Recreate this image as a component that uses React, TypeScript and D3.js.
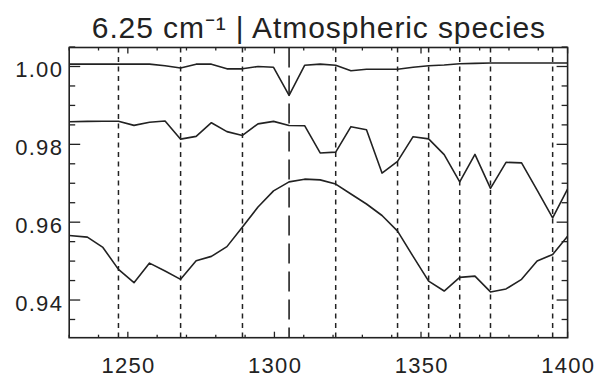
import React from "react";
import * as d3 from "d3";

// Wavenumber grid (cm^-1)
const wavenumbers = [
  1230.0, 1236.2, 1241.5, 1246.8, 1252.1, 1257.4, 1262.7, 1268.0, 1273.3, 1278.5,
  1283.8, 1289.1, 1294.4, 1299.7, 1305.0, 1310.3, 1315.6, 1320.9, 1326.1, 1331.4,
  1336.7, 1342.0, 1347.3, 1352.6, 1357.9, 1363.2, 1368.4, 1373.7, 1379.0, 1384.3,
  1389.6, 1394.9, 1400.2,
];

const seriesTop = [
  1.0006, 1.0006, 1.0006, 1.0006, 1.0006, 1.0006, 1.0002, 0.9996, 1.0006, 1.0006,
  0.9994, 0.9994, 1.0, 0.9998, 0.9926, 1.0003, 1.0006, 1.0003, 0.9989, 0.9993,
  0.9993, 0.9993, 0.9998, 1.0002, 1.0004, 1.0007, 1.0008, 1.0009, 1.0009, 1.0009,
  1.0009, 1.0009, 1.0009,
];

const seriesMid = [
  0.98582, 0.9859, 0.98595, 0.98595, 0.98487, 0.98569, 0.986, 0.98133, 0.98205, 0.98556,
  0.98326, 0.98228, 0.98526, 0.9859, 0.98485, 0.98479, 0.97779, 0.978, 0.98454, 0.98377,
  0.97262, 0.97564, 0.98197, 0.98141, 0.97736, 0.97036, 0.97741, 0.96869, 0.97538, 0.97523,
  0.96826, 0.96113, 0.96882,
];

const seriesBot = [
  0.95659, 0.95615, 0.95351, 0.94787, 0.94446, 0.94949, 0.94744, 0.94531, 0.9501, 0.95121,
  0.95372, 0.95877, 0.9639, 0.96805, 0.97036, 0.97105, 0.97087, 0.96979, 0.96723, 0.96467,
  0.96172, 0.95769, 0.95121, 0.94487, 0.94231, 0.94582, 0.94615, 0.94208, 0.94285, 0.94531,
  0.95, 0.95172, 0.95659,
];

// Atmospheric line positions
const dottedLines = [1246.8, 1268.0, 1289.1, 1320.9, 1342.0, 1352.6, 1363.2, 1373.7, 1394.9];
const dashedLines = [1305.0];

const xTickLabels = [1250, 1300, 1350, 1400];
const yTickLabels = [0.94, 0.96, 0.98, 1.0];
const titleText = "6.25 cm⁻¹ | Atmospheric species";

const W = 597;
const H = 376;
const L = 69.2;
const R = 567.6;
const T = 47.5;
const B = 337.7;
const FONT = "'Liberation Sans', Arial, sans-serif";
const INK = "#222";

export default function App() {
  const x = d3.scaleLinear().domain([1230, 1400]).range([L, R]);
  const y = d3.scaleLinear().domain([0.93032, 1.00488]).range([B, T]);

  const line = d3
    .line<number>()
    .x((_, i) => x(wavenumbers[i]))
    .y((d) => y(d));

  const xMinor = d3.range(1230, 1401, 10);
  const yMinor = d3.range(186, 202).map((k) => k * 0.005).filter((v) => y(v) >= T - 0.5 && y(v) <= B + 0.5);

  const isXMajor = (v: number) => Math.abs(v % 50) < 1e-6;
  const isYMajor = (v: number) => Math.abs(Math.round(v * 100) - v * 100) < 1e-6 && Math.round(v * 100) % 2 === 0;

  return (
    <svg
      width={W}
      height={H}
      style={{ position: "absolute", left: 0, top: 0, background: "#fff" }}
    >
      <defs>
        <clipPath id="plotclip">
          <rect x={L} y={T} width={R - L} height={B - T} />
        </clipPath>
      </defs>
      <rect x={0} y={0} width={W} height={H} fill="#fff" />

      {/* title */}
      <text x={(L + R) / 2 + 0.5} y={38} textAnchor="middle" fontFamily={FONT} fontSize={30} letterSpacing={0.9} fill={INK}>
        {titleText}
      </text>

      {/* vertical reference lines */}
      <g clipPath="url(#plotclip)">
        {dottedLines.map((v) => (
          <line key={"d" + v} x1={x(v)} x2={x(v)} y1={T} y2={B} stroke={INK} strokeWidth={1.5} strokeDasharray="5,4.5" />
        ))}
        {dashedLines.map((v) => (
          <line key={"L" + v} x1={x(v)} x2={x(v)} y1={T} y2={B} stroke={INK} strokeWidth={1.6} strokeDasharray="20,8" />
        ))}
      </g>

      {/* curves */}
      <g clipPath="url(#plotclip)" fill="none" stroke={INK} strokeWidth={1.6} strokeLinejoin="round">
        <path d={line(seriesTop) || ""} />
        <path d={line(seriesMid) || ""} />
        <path d={line(seriesBot) || ""} />
      </g>

      {/* ticks */}
      <g stroke={INK} strokeWidth={1.3}>
        {xMinor.map((v) => {
          const len = isXMajor(v) ? 6 : 3;
          return (
            <g key={"xt" + v}>
              <line x1={x(v)} x2={x(v)} y1={B} y2={B - len} />
              <line x1={x(v)} x2={x(v)} y1={T} y2={T + len} />
            </g>
          );
        })}
        {yMinor.map((v) => {
          const len = isYMajor(v) ? 11 : 6;
          return (
            <g key={"yt" + v}>
              <line x1={L} x2={L + len} y1={y(v)} y2={y(v)} />
              <line x1={R} x2={R - len} y1={y(v)} y2={y(v)} />
            </g>
          );
        })}
      </g>

      {/* frame */}
      <rect x={L} y={T} width={R - L} height={B - T} fill="none" stroke={INK} strokeWidth={1.6} />

      {/* tick labels */}
      <g fontFamily={FONT} fontSize={22} letterSpacing={1.3} fill={INK}>
        {xTickLabels.map((v) => (
          <text key={"xl" + v} x={x(v) + 0.7} y={372.5} textAnchor="middle">
            {d3.format("d")(v)}
          </text>
        ))}
        {yTickLabels.map((v) => (
          <text key={"yl" + v} x={63.2} y={y(v) + 10.8} textAnchor="end">
            {d3.format(".2f")(v)}
          </text>
        ))}
      </g>
    </svg>
  );
}
